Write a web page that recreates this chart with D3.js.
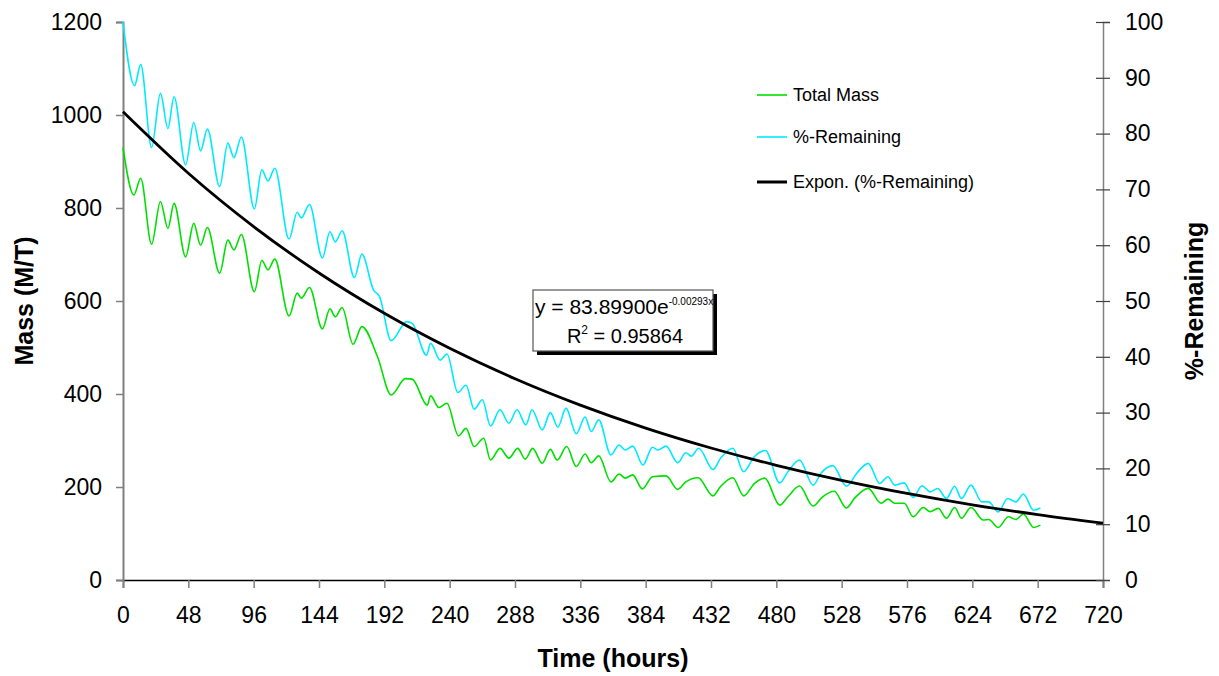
<!DOCTYPE html>
<html>
<head>
<meta charset="utf-8">
<script src="https://cdn.jsdelivr.net/npm/d3@7"></script>
<style>
  html, body { margin: 0; padding: 0; background: #fff; }
  svg { display: block; font-family: "Liberation Sans", Arial, sans-serif; }
</style>
</head>
<body>
<svg id="chart" width="1219" height="676"></svg>
<script>
// ---------- data ----------
const xTicks = [0, 48, 96, 144, 192, 240, 288, 336, 384, 432, 480, 528, 576, 624, 672, 720];
const massTicks = [0, 200, 400, 600, 800, 1000, 1200];
const pctTicks = [0, 10, 20, 30, 40, 50, 60, 70, 80, 90, 100];

// Total Mass (M/T) — hours / values read at turning points
const massHours = [0, 8, 13, 21, 27.5, 33, 37.5, 46, 52, 57, 62, 71, 77, 81.5, 87, 96.5, 102, 106.5, 111.5, 122, 128, 131, 137, 146.5, 152, 156, 161, 169, 175.5, 187, 197, 207.5, 212.5, 223.5, 226, 232, 238, 246.5, 252, 258, 265, 270, 277, 283.5, 290, 295.5, 301, 308, 314, 319, 326, 333, 339.5, 344, 349.5, 358.5, 364.5, 369, 374.5, 381.5, 389, 399, 407.5, 413.5, 422.5, 433.5, 439, 448, 456, 464, 471.5, 482.5, 488.5, 497, 507, 514, 522.5, 531.5, 537.5, 547.5, 557, 562, 567, 574, 580.5, 588, 593, 599, 605, 611, 616, 623, 632, 636, 643, 650.5, 656, 661.5, 669, 674];
const massValues = [930, 828, 864, 722, 814, 756, 810, 695, 767, 720, 758, 660, 731, 710, 743, 620, 687, 667, 690, 568, 617, 606, 629, 540, 583, 566, 586, 507, 545, 480, 398, 433, 432, 376, 396, 371, 380, 310, 326, 287, 305, 258, 283, 262, 283, 260, 283, 251, 281, 258, 287, 244, 271, 252, 267, 211, 228, 219, 226, 196, 222, 224, 195, 211, 220, 181, 201, 220, 181, 208, 219, 161, 179, 202, 159, 179, 191, 155, 176, 197, 165, 174, 165, 165, 136, 156, 147, 154, 133, 156, 133, 156, 129, 130, 113, 136, 130, 142, 113, 118];

// %-Remaining
const pctHours = [0, 8.5, 13, 21, 27.5, 33, 37.5, 46, 52, 57, 62, 71, 77, 81.5, 87, 96.5, 102, 106.5, 111.5, 122, 128, 131, 137, 146.5, 152, 156, 161, 170, 175.5, 184, 188.5, 197, 208.5, 212.5, 223, 226, 233, 238, 246, 252, 258, 264, 270, 277, 283.5, 289.5, 296, 300.5, 308, 314, 319.5, 325.5, 333, 339.5, 344, 349.5, 358.5, 364.5, 369, 374.5, 382, 389, 393, 399, 407.5, 413.5, 417.5, 423, 433.5, 439, 448, 456, 463.5, 472, 482.5, 488.5, 497, 507, 513, 521.5, 531.5, 539, 547.5, 556, 562, 567, 574, 580.5, 587, 593, 598.5, 605, 611, 616, 623, 631, 636, 643, 650, 656, 661.5, 669, 674];
const pctValues = [100, 88.6, 92.4, 77.5, 87.2, 80.9, 86.6, 74.4, 82.0, 76.9, 80.8, 70.5, 78.3, 75.7, 79.4, 66.5, 73.5, 71.5, 73.8, 61.1, 65.9, 64.9, 67.3, 57.7, 62.4, 60.6, 62.6, 54.2, 58.4, 52.0, 50.8, 42.9, 46.3, 46.0, 40.3, 42.4, 39.4, 40.5, 33.6, 34.9, 30.6, 32.3, 27.6, 30.5, 28.1, 30.5, 27.8, 30.5, 26.9, 30.0, 27.4, 30.8, 26.2, 29.2, 26.6, 28.7, 22.4, 24.2, 23.3, 24.0, 20.6, 23.8, 23.3, 24.0, 21.0, 22.8, 22.2, 23.6, 19.8, 21.8, 23.6, 19.4, 22.0, 23.2, 17.4, 19.4, 21.5, 17.0, 19.2, 20.5, 16.8, 19.1, 20.9, 17.3, 18.5, 17.0, 17.4, 14.8, 16.9, 15.8, 16.4, 14.6, 16.8, 14.6, 17.0, 14.0, 14.0, 12.2, 14.6, 14.0, 15.4, 12.5, 12.9];

// Expon. (%-Remaining) trendline values
const trendHours = [0, 48, 96, 144, 192, 240, 288, 336, 384, 432, 480, 528, 576, 624, 672, 720];
const trendValues = [83.90, 72.89, 63.33, 55.02, 47.80, 41.53, 36.08, 31.35, 27.23, 23.66, 20.56, 17.86, 15.52, 13.48, 11.71, 10.18];

const legendLabels = ["Total Mass", "%-Remaining", "Expon. (%-Remaining)"];
const equationText = "y = 83.89900e";
const equationExp = "-0.00293x";
const r2Value = "0.95864";

// ---------- chart ----------
const svg = d3.select("#chart");
svg.append("rect").attr("width", 1219).attr("height", 676).attr("fill", "#fff");

const x = d3.scaleLinear().domain([0, 720]).range([123, 1103]);
const yMass = d3.scaleLinear().domain([0, 1200]).range([580, 22]);
const yPct = d3.scaleLinear().domain([0, 100]).range([580, 22]);

const tickFont = 23;

// bottom axis
const gx = svg.append("g").attr("transform", `translate(0,${yMass(0)})`)
  .call(d3.axisBottom(x).tickValues(xTicks).tickSize(8).tickPadding(19).tickFormat(d3.format("d")));
gx.select(".domain").attr("stroke", "#000").attr("stroke-width", 1.5);
gx.selectAll(".tick line").attr("stroke", "#808080").attr("stroke-width", 1.5);
gx.selectAll(".tick text").attr("font-size", tickFont).attr("fill", "#000").attr("font-family", "Liberation Sans, Arial");

// left axis
const gl = svg.append("g").attr("transform", `translate(${x(0)},0)`)
  .call(d3.axisLeft(yMass).tickValues(massTicks).tickSize(7).tickPadding(14).tickFormat(d3.format("d")));
gl.select(".domain").attr("stroke", "#808080").attr("stroke-width", 2);
gl.selectAll(".tick line").attr("stroke", "#808080").attr("stroke-width", 1.5);
gl.selectAll(".tick text").attr("font-size", tickFont).attr("fill", "#000").attr("font-family", "Liberation Sans, Arial");

// right axis
const gr = svg.append("g").attr("transform", `translate(${x(720)},0)`)
  .call(d3.axisRight(yPct).tickValues(pctTicks).tickSize(7).tickPadding(15).tickFormat(d3.format("d")));
gr.select(".domain").attr("stroke", "#808080").attr("stroke-width", 1.5);
gr.selectAll(".tick line").attr("x1", -7).attr("x2", 7).attr("stroke", "#404040").attr("stroke-width", 1.2);
gr.selectAll(".tick text").attr("font-size", tickFont).attr("fill", "#000").attr("font-family", "Liberation Sans, Arial");

// axis titles
svg.append("text").attr("x", 613).attr("y", 667).attr("text-anchor", "middle")
  .attr("font-size", 25).attr("font-weight", "bold").text("Time (hours)");
svg.append("text").attr("transform", "translate(33,301) rotate(-90)").attr("text-anchor", "middle")
  .attr("font-size", 25).attr("font-weight", "bold").text("Mass (M/T)");
svg.append("text").attr("transform", "translate(1203,301) rotate(-90)").attr("text-anchor", "middle")
  .attr("font-size", 25).attr("font-weight", "bold").text("%-Remaining");

// series
const massData = massHours.map((h, i) => [h, massValues[i]]);
const pctData = pctHours.map((h, i) => [h, pctValues[i]]);
const trendData = trendHours.map((h, i) => [h, trendValues[i]]);

const greenColor = "#00e000";
const cyanColor = "#00eaff";

svg.append("path").datum(pctData)
  .attr("d", d3.line().x(d => x(d[0])).y(d => yPct(d[1])).curve(d3.curveMonotoneX))
  .attr("fill", "none").attr("stroke", cyanColor).attr("stroke-width", 1.6);

svg.append("path").datum(massData)
  .attr("d", d3.line().x(d => x(d[0])).y(d => yMass(d[1])).curve(d3.curveMonotoneX))
  .attr("fill", "none").attr("stroke", greenColor).attr("stroke-width", 1.6);

svg.append("path").datum(trendData)
  .attr("d", d3.line().x(d => x(d[0])).y(d => yPct(d[1])).curve(d3.curveMonotoneX))
  .attr("fill", "none").attr("stroke", "#000").attr("stroke-width", 2.8);

// legend
const legColors = [greenColor, cyanColor, "#000"];
const legWidths = [1.6, 1.6, 3];
const legY = [95, 137, 182];
legendLabels.forEach((lab, i) => {
  svg.append("line").attr("x1", 757).attr("x2", 787).attr("y1", legY[i]).attr("y2", legY[i])
    .attr("stroke", legColors[i]).attr("stroke-width", legWidths[i]);
  svg.append("text").attr("x", 793).attr("y", legY[i]).attr("dy", "0.35em")
    .attr("font-size", 18).attr("fill", "#000").text(lab);
});

// equation box
const bx = 533, by = 290, bw = 180, bh = 61;
svg.append("rect").attr("x", bx + 4).attr("y", by + 4).attr("width", bw).attr("height", bh).attr("fill", "#000");
svg.append("rect").attr("x", bx).attr("y", by).attr("width", bw).attr("height", bh)
  .attr("fill", "#fff").attr("stroke", "#555").attr("stroke-width", 1.2);
const eq = svg.append("text").attr("x", bx + 2).attr("y", by + 24).attr("font-size", 21).attr("fill", "#000");
eq.append("tspan").text(equationText);
eq.append("tspan").attr("dy", -9).attr("font-size", 10).text(equationExp);
const r2 = svg.append("text").attr("x", bx + bw / 2 + 2).attr("y", by + 53).attr("text-anchor", "middle")
  .attr("font-size", 20).attr("fill", "#000");
r2.append("tspan").text("R");
r2.append("tspan").attr("dy", -9).attr("font-size", 12).text("2");
r2.append("tspan").attr("dy", 9).text(" = " + r2Value);
</script>
</body>
</html>
